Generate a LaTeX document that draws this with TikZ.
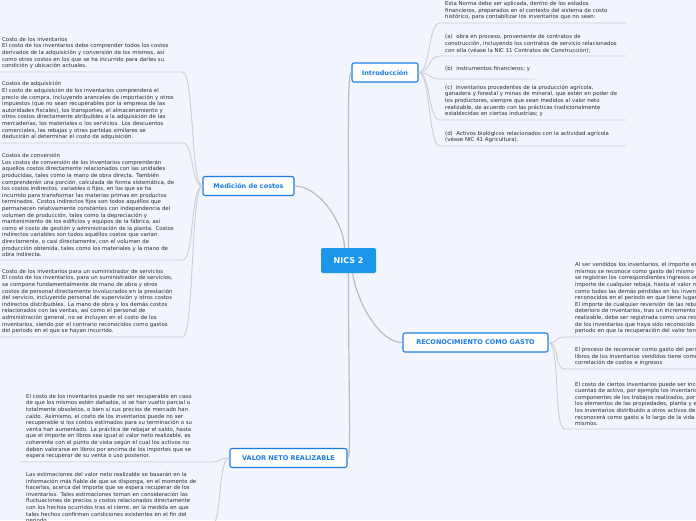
\documentclass[tikz,border=0pt]{standalone}
\usepackage{fontspec}
\setmainfont{DejaVu Sans}
\definecolor{paper}{RGB}{242,245,253}
\definecolor{nicsblue}{RGB}{27,150,232}
\definecolor{topicblue}{RGB}{28,125,225}
\definecolor{branchgrey}{RGB}{188,188,192}
\definecolor{notegrey}{RGB}{206,206,212}
\definecolor{notetext}{RGB}{45,45,50}
\tikzset{
root/.style={
       rectangle,
       fill=nicsblue,
       rounded corners=2pt,
       text=white,
       font=\fontsize{8}{9}\selectfont\bfseries,
       minimum width=55pt,
       minimum height=25pt,
       },
topic/.style={
       rectangle,
       draw=topicblue, line width=1.1pt,
       fill=white,
       rounded corners=2pt,
       text=topicblue,
       font=\fontsize{6.5}{7.5}\selectfont\bfseries,
       minimum height=19pt,
       },
note/.style={
       anchor=south west,
       align=left,
       text=notetext,
       font=\fontsize{5.4}{6.6}\selectfont,
       inner xsep=5pt, inner ysep=3pt,
%       draw=red,
       },
mainline/.style={draw=branchgrey, line width=1.2pt},
noteline/.style={draw=notegrey, line width=0.9pt},
}

\begin{document}
\begin{tikzpicture}[x=1pt, y=-1pt]
    \path[use as bounding box, fill=paper] (0,0) rectangle (696,520);
    \clip (0,0) rectangle (696,520);

    % main topics
    \node [root] (nics) at (348.5,260.5) {NICS 2};
    \node [topic, minimum width=66pt] (intro) at (385,72.5) {Introducción};
    \node [topic, minimum width=91pt] (medicion) at (248.5,186) {Medición de costos};
    \node [topic, minimum width=145pt] (reconoc) at (475.5,342.5) {RECONOCIMIENTO COMO GASTO};
    \node [topic, minimum width=117pt] (valor) at (288.5,458) {VALOR NETO REALIZABLE};

    % notes of Introducción
    \node [note, text width=176pt] (i0) at (440,23) {
                Esta Norma debe ser aplicada, dentro de los estados\\
                financieros, preparados en el contexto del sistema de costo\\
                histórico, para contabilizar los inventarios que no sean:};
    \node [note, text width=176pt] (i1) at (440,56) {
                (a)\ \ obra en proceso, proveniente de contratos de\\
                construcción, incluyendo los contratos de servicio relacionados\\
                con ella (véase la NIC 11 Contratos de Construcción);};
    \node [note, inner ysep=7pt] (i2) at (440,79) {(b)\ \ instrumentos financieros; y};
    \node [note, text width=176pt] (i3) at (440,120) {
                (c)\ \ inventarios procedentes de la producción agrícola,\\
                ganadera y forestal y minas de mineral, que estén en poder de\\
                los productores, siempre que sean medidos al valor neto\\
                realizable, de acuerdo con las prácticas tradicionalmente\\
                establecidas en ciertas industrias; y};
    \node [note, text width=176pt] (i4) at (440,146) {
                (d)\ \ Activos biológicos relacionados con la actividad agrícola\\
                (véase NIC 41 Agricultura).};

    % notes of Medición de costos
    \node [note, inner xsep=2pt, text width=178pt] (m1) at (0,72) {
                Costo de los inventarios\\
                El costo de los inventarios debe comprender todos los costos\\
                derivados de la adquisición y conversión de los mismos, así\\
                como otros costos en los que se ha incurrido para darles su\\
                condición y ubicación actuales.};
    \node [note, inner xsep=2pt, text width=178pt] (m2) at (0,143) {
                Costos de adquisición\\
                El costo de adquisición de los inventarios comprenderá el\\
                precio de compra, incluyendo aranceles de importación y otros\\
                impuestos (que no sean recuperables por la empresa de las\\
                autoridades fiscales), los transportes, el almacenamiento y\\
                otros costos directamente atribuibles a la adquisición de las\\
                mercaderías, los materiales o los servicios. Los descuentos\\
                comerciales, las rebajas y otras partidas similares se\\
                deducirán al determinar el costo de adquisición.};
    \node [note, inner xsep=2pt, text width=178pt] (m3) at (0,260) {
                Costos de conversión\\
                Los costos de conversión de los inventarios comprenderán\\
                aquellos costos directamente relacionados con las unidades\\
                producidas, tales como la mano de obra directa. También\\
                comprenderán una porción, calculada de forma sistemática, de\\
                los costos indirectos, variables o fijos, en los que se ha\\
                incurrido para transformar las materias primas en productos\\
                terminados. Costos indirectos fijos son todos aquéllos que\\
                permanecen relativamente constantes con independencia del\\
                volumen de producción, tales como la depreciación y\\
                mantenimiento de los edificios y equipos de la fábrica, así\\
                como el costo de gestión y administración de la planta. Costos\\
                indirectos variables son todos aquéllos costos que varían\\
                directamente, o casi directamente, con el volumen de\\
                producción obtenida, tales como los materiales y la mano de\\
                obra indirecta.};
    \node [note, inner xsep=2pt, text width=178pt] (m4) at (0,337) {
                Costo de los inventarios para un suministrador de servicios\\
                El costo de los inventarios, para un suministrador de servicios,\\
                se compone fundamentalmente de mano de obra y otros\\
                costos de personal directamente involucrados en la prestación\\
                del servicio, incluyendo personal de supervisión y otros costos\\
                indirectos distribuibles. La mano de obra y los demás costos\\
                relacionados con las ventas, así como el personal de\\
                administración general, no se incluyen en el costo de los\\
                inventarios, siendo por el contrario reconocidos como gastos\\
                del periodo en el que se hayan incurrido.};

    % notes of RECONOCIMIENTO COMO GASTO (cut by the right edge)
    \node [note, inner xsep=10pt, text width=230pt] (r0) at (565,337) {
                Al ser vendidos los inventarios, el importe en libros de los\\
                mismos se reconoce como gasto del mismo periodo en que\\
                se registran los correspondientes ingresos ordinarios. El\\
                importe de cualquier rebaja, hasta el valor neto realizable, así\\
                como todas las demás pérdidas en los inventarios, serán\\
                reconocidos en el periodo en que tiene lugar la rebaja o pérdida.\\
                El importe de cualquier reversión de las rebajas de valor por\\
                deterioro de inventarios, tras un incremento en el valor neto\\
                realizable, debe ser registrada como una reducción en el valor\\
                de los inventarios que haya sido reconocido como gasto, en el\\
                periodo en que la recuperación del valor tenga lugar.};
    \node [note, inner xsep=10pt, text width=230pt] (r1) at (565,369) {
                El proceso de reconocer como gasto del periodo el importe en\\
                libros de los inventarios vendidos tiene como resultado la\\
                correlación de costos e ingresos};
    \node [note, inner xsep=10pt, text width=230pt] (r2) at (565,429) {
                El costo de ciertos inventarios puede ser incorporado a otras\\
                cuentas de activo, por ejemplo los inventarios que se emplean\\
                componentes de los trabajos realizados, por la entidad, para\\
                los elementos de las propiedades, planta y equipo de propia\\
                los inventarios distribuido a otros activos de esta manera, se\\
                reconocerá como gasto a lo largo de la vida útil de los\\
                mismos.};

    % notes of VALOR NETO REALIZABLE
    \node [note, inner xsep=6pt, text width=178pt] (v0) at (20,462) {
                El costo de los inventarios puede no ser recuperable en caso\\
                de que los mismos estén dañados, si se han vuelto parcial o\\
                totalmente obsoletos, o bien si sus precios de mercado han\\
                caído. Asimismo, el costo de los inventarios puede no ser\\
                recuperable si los costos estimados para su terminación o su\\
                venta han aumentado. La práctica de rebajar el saldo, hasta\\
                que el importe en libros sea igual al valor neto realizable, es\\
                coherente con el punto de vista según el cual los activos no\\
                deben valorarse en libros por encima de los importes que se\\
                espera recuperar de su venta o uso posterior.};
    \node [note, inner xsep=6pt, text width=178pt] (v1) at (20,527) {
                Las estimaciones del valor neto realizable se basarán en la\\
                información más fiable de que se disponga, en el momento de\\
                hacerlas, acerca del importe que se espera recuperar de los\\
                inventarios. Tales estimaciones toman en consideración las\\
                fluctuaciones de precios o costos relacionados directamente\\
                con los hechos ocurridos tras el cierre, en la medida en que\\
                tales hechos confirmen condiciones existentes en el fin del\\
                periodo.};

    % branches from the root
    \draw[mainline] (nics.north) .. controls +(0,-130) and +(-4,0) .. (intro.west);
    \draw[mainline] (nics.south) .. controls +(0,130) and +(4,0) .. (valor.east);
    \draw[mainline] ([xshift=-4pt]nics.north) .. controls +(0,-22) and +(26,0) .. (medicion.east);
    \draw[mainline] ([xshift=4pt]nics.south) .. controls +(5,30) and +(-23,0) .. (reconoc.west);

    % branches to the notes, with their underlines
    \foreach \c in {i0,i1,i2,i3,i4}
        \draw[noteline] (intro.east) .. controls +(12,0) and +(-12,0) .. (\c.south west) -- (\c.south east);
    \foreach \c in {r0,r1,r2}
        \draw[noteline] (reconoc.east) .. controls +(12,0) and +(-12,0) .. (\c.south west) -- (\c.south east);
    \foreach \c in {m1,m2,m3,m4}
        \draw[noteline] (\c.south west) -- (\c.south east) .. controls +(12,0) and +(-12,0) .. (medicion.west);
    \foreach \c in {v0,v1}
        \draw[noteline] (\c.south west) -- (\c.south east) .. controls +(12,0) and +(-12,0) .. (valor.west);
\end{tikzpicture}
\end{document}
